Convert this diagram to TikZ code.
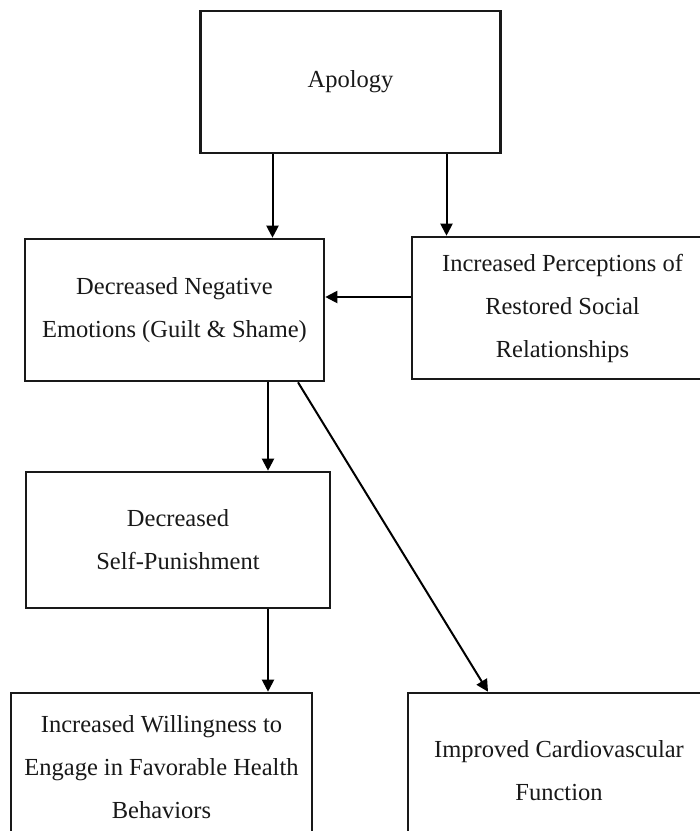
\documentclass[tikz,border=0pt]{standalone}
\usepackage{fontspec}
\setmainfont{Liberation Serif}
\usetikzlibrary{arrows.meta,calc}
\begin{document}
\begin{tikzpicture}[x=1pt,y=-1pt,
  box/.style={draw=black!90,line width=2.6pt,align=center,inner sep=0pt,
    font=\fontsize{24.5}{43}\selectfont,text=black!90},
  arr/.style={line width=2pt,draw=black,-{Triangle[length=12pt,width=12pt]}}]
\fill[white] (0,0) rectangle (700,831);
\useasboundingbox (0,0) rectangle (700,831);
\clip (0,0) rectangle (700,831);
\node[box,minimum width=300.5pt,minimum height=142pt] (apology) at (350.5,82) {Apology};
\node[box,minimum width=299pt,minimum height=142pt] (neg) at (174.5,310) {Decreased Negative\\Emotions (Guilt \& Shame)};
\node[box,minimum width=301pt,minimum height=142pt] (perc) at (562.5,308) {Increased Perceptions of\\Restored Social\\Relationships};
\node[box,minimum width=304pt,minimum height=136pt] (pun) at (178,540) {Decreased\\Self-Punishment};
\node[box,minimum width=301pt,minimum height=148pt] (will) at (161.5,767) {Increased Willingness to\\Engage in Favorable Health\\Behaviors};
\node[box,minimum width=302pt,minimum height=156pt] (card) at (559,771) {Improved Cardiovascular\\Function};
\draw[arr] ([xshift=-78pt]apology.south) -- ([xshift=-78pt]apology.south |- neg.north);
\draw[arr] ([xshift=96pt]apology.south) -- ([xshift=96pt]apology.south |- perc.north);
\draw[arr] ([yshift=11pt]perc.west) -- ([yshift=11pt]perc.west -| neg.east);
\draw[arr] ([xshift=93.5pt]neg.south) -- ([xshift=93.5pt]neg.south |- pun.north);
\draw[arr] ([xshift=123.5pt]neg.south) -- ([xshift=-71pt]card.north);
\draw[arr] ([xshift=90pt]pun.south) -- ([xshift=90pt]pun.south |- will.north);
\end{tikzpicture}
\end{document}
